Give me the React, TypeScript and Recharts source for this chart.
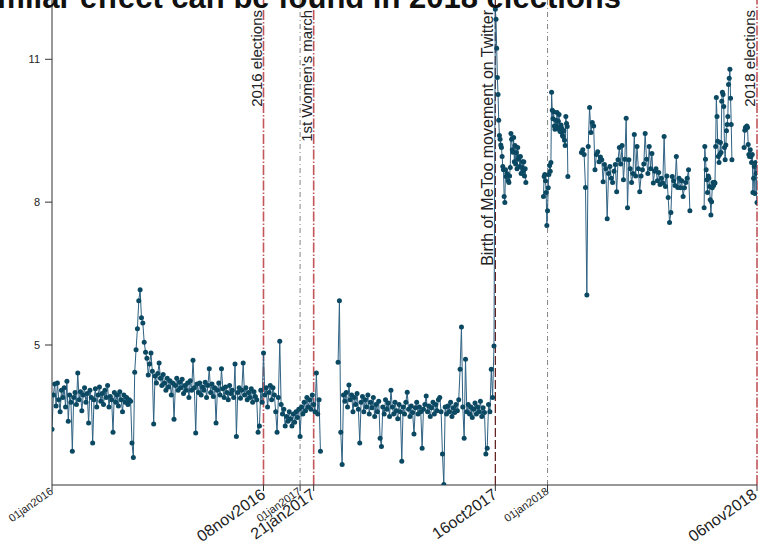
import { LineChart, Line, XAxis, YAxis, ReferenceLine } from "recharts";

// day index counted from 01jan2016
const tickDays = [0, 312, 366, 386, 654, 731, 1040];
const tickLabels = ["01jan2016", "08nov2016", "01jan2017", "21jan2017", "16oct2017", "01jan2018", "06nov2018"];
const tickMajor = [false, true, false, true, true, false, true];
const yTicks = [5, 8, 11];

const eventDays = [312, 386, 654, 1040];
const eventLabels = ["2016 elections", "1st Women's march", "Birth of MeToo movement on Twitter", "2018 elections"];
const eventFontSizes = [15, 15, 16, 15];
const yearStartDays = [366, 731];

// daily share (segments separated by missing days)
const seg2016 = [
  3.23, 3.95, 4.18, 3.72, 4.2, 3.85, 3.6, 4.05, 3.9, 4.1, 3.7, 4.24, 3.4, 3.95, 3.8, 2.77, 3.9, 4.0, 3.75, 4.41,
  3.85, 4.02, 3.62, 3.95, 4.1, 3.8, 3.98, 3.36, 4.05, 3.9, 2.94, 3.85, 4.08, 3.7, 3.95, 4.12, 3.82, 3.98, 3.75, 4.05,
  3.9, 4.15, 3.7, 3.92, 3.85, 3.17, 4.0, 3.8, 3.95, 3.72, 4.02, 3.85, 3.6, 3.95, 3.8, 3.9, 3.75, 3.85, 3.82, 2.94,
  2.64, 4.43, 4.9, 5.34, 5.93, 6.16, 5.57, 5.46, 5.06, 4.85, 4.72, 4.37, 4.6, 4.83, 4.45, 3.34, 4.35, 4.2, 4.4, 4.62,
  4.3, 4.15, 4.38, 4.2, 4.05, 4.3, 4.12, 4.25, 3.95, 4.2, 3.44, 4.15, 4.3, 4.05, 4.22, 4.1, 4.28, 3.98, 4.15, 4.05,
  4.2, 3.9, 4.25, 4.05, 4.68, 4.1, 3.15, 4.18, 4.0, 4.2, 3.95, 4.12, 4.05, 4.22, 3.9, 4.15, 4.5, 4.0, 4.18, 3.92,
  4.1, 3.36, 4.05, 4.2, 3.95, 4.5, 4.08, 3.9, 4.12, 4.0, 3.85, 4.15, 3.98, 4.05, 3.9, 4.6, 3.08, 4.0, 4.1, 3.88,
  4.05, 4.62, 3.95, 4.1, 3.85, 4.0, 3.9, 4.08, 3.8, 4.02, 3.92, 3.85, 3.17, 3.3, 4.05, 3.8, 4.83, 3.95, 4.1, 3.7,
  4.0, 4.15, 3.85, 4.1, 3.95, 3.6, 3.17, 3.9, 5.08, 3.75, 3.55, 3.65, 3.3, 3.5, 3.4, 3.6, 3.45, 3.3, 3.55, 3.38,
  3.6, 3.48, 3.65, 3.08, 3.7, 3.55, 3.8, 3.62, 3.9, 3.7, 3.85, 3.65, 3.95, 3.75, 3.6, 4.41, 3.55, 3.85, 2.77,
];
const seg2017 = [
  4.64, 5.93, 3.17, 2.49, 3.95, 3.82, 4.0, 3.7, 4.16, 3.85, 3.95, 3.6, 3.9, 3.75, 3.98, 3.65, 2.94, 3.8, 3.92, 3.6,
  3.85, 3.7, 3.95, 3.55, 3.8, 3.68, 3.9, 3.5, 3.75, 3.6, 3.82, 3.04, 2.87, 3.7, 3.55, 3.85, 3.65, 3.78, 3.5, 4.05,
  3.7, 3.55, 3.8, 3.62, 3.45, 3.75, 3.6, 2.56, 3.7, 3.55, 3.8, 4.01, 3.65, 3.5, 3.72, 3.58, 3.13, 3.68, 3.8, 3.55,
  3.7, 3.6, 2.83, 3.65, 3.75, 3.93, 3.6, 3.72, 3.5, 3.68, 3.8, 3.55, 3.75, 3.62, 3.85, 3.9, 3.6, 2.71, 2.07, 3.7,
  3.55, 3.72, 3.6, 3.8, 3.5, 3.68, 3.58, 3.75, 3.62, 3.85, 4.49, 5.38, 3.7, 3.04, 4.7, 3.6, 3.75, 3.55, 3.7, 3.48,
  3.65, 3.78, 3.55, 3.7, 3.6, 3.82, 3.5, 3.68, 3.58, 2.71, 2.83, 3.75, 3.6, 4.49, 3.9, 4.98,
];
const segMeToo = [
  12.05, 11.84, 11.23, 10.62, 10.26, 9.72, 9.4, 9.32, 9.2, 9.15, 8.96, 8.75, 8.68, 8.12, 7.99, 8.68, 8.54, 8.6, 8.58, 8.45,
  8.41, 8.55, 8.73, 9.44, 9.32, 9.1, 9.05, 9.36, 8.85, 9.19, 8.8, 9.04, 8.7, 9.15, 8.9, 8.95, 8.75, 8.96, 8.6, 8.73,
  8.85, 8.65, 8.85, 8.55, 8.7, 8.41,
];
const segNewYear = [
  8.12, 8.54, 8.58, 8.45, 8.2, 7.51, 7.82, 8.3, 8.58, 8.77, 8.65, 8.83, 10.31, 9.93, 9.75, 9.9, 9.6, 9.53, 9.72, 9.6,
  9.88, 9.55, 9.7, 9.84, 9.5, 9.48, 9.62, 9.55, 9.4, 9.38, 9.5, 9.3, 9.19, 9.8, 9.65, 9.59, 8.54,
];
const seg2018 = [
  9.04, 9.1, 9.0, 8.31, 6.05, 9.17, 9.99, 9.46, 9.67, 9.6, 8.68, 9.0, 9.06, 8.85, 8.95, 8.89, 8.43, 8.79, 8.7, 7.65,
  8.6, 8.75, 8.5, 8.41, 8.65, 8.79, 8.22, 8.89, 9.15, 8.8, 9.19, 8.47, 8.9, 9.76, 7.88, 8.89, 8.7, 8.41, 8.6, 9.42,
  8.55, 9.17, 8.7, 8.22, 8.55, 8.68, 8.8, 9.44, 8.9, 8.6, 9.17, 8.7, 9.02, 8.4, 8.65, 8.7, 8.45, 8.62, 8.37, 8.5,
  8.4, 9.38, 8.33, 8.55, 8.1, 7.57, 7.78, 8.54, 8.45, 8.35, 8.96, 8.31, 8.5, 8.3, 8.45, 8.12, 8.3, 8.41, 8.5, 8.68,
  7.82,
];
const segFall2018 = [
  7.88, 9.17, 8.9, 8.68, 8.47, 8.2, 8.55, 8.5, 8.33, 8.05, 7.73, 8.01, 8.3, 8.41, 8.35, 8.42, 8.4, 9.17, 10.2, 9.8,
  9.28, 8.96, 8.83, 9.0, 9.25, 9.04, 10.12, 10.31, 10.26, 10.01, 9.15, 8.89, 9.2, 9.5, 9.63, 9.8, 10.47, 10.6, 10.79, 10.18,
  9.63, 8.89,
];
const segElection2018 = [
  9.15, 9.51, 9.57, 9.55, 9.6, 9.57, 9.21, 9.0, 8.96, 9.1, 8.96, 8.83, 9.0, 8.2, 8.5, 8.75, 8.18, 8.83, 8.6, 7.99,
];

const segValues = [seg2016, seg2017, segMeToo, segNewYear, seg2018, segFall2018, segElection2018];
const segStart = [0, 422, 654, 725, 781, 962, 1021];
const segStep = [2, 2, 1, 1, 2, 1, 1];
const segGapBefore = [false, true, false, true, true, true, true];

const data: { day: number; value: number | null }[] = [];
segValues.forEach((vals, s) => {
  if (segGapBefore[s]) data.push({ day: segStart[s] - 1, value: null });
  vals.forEach((v, i) => data.push({ day: segStart[s] + i * segStep[s], value: v }));
});

const FONT = "'Liberation Sans', Arial, Helvetica, sans-serif";
const RED = "#c2565a";

function DateTick(props: any) {
  const { x, y, payload } = props;
  const i = tickDays.indexOf(payload.value);
  if (i < 0) return null;
  const big = tickMajor[i];
  const ax = Math.min(x + (big ? 3 : 2), 758);
  const ay = y + (big ? 4 : 0);
  return (
    <text
      x={ax}
      y={ay}
      textAnchor="end"
      fontSize={big ? 16 : 11}
      fontFamily={FONT}
      fill="#222"
      transform={`rotate(-35, ${ax}, ${ay})`}
    >
      {tickLabels[i]}
    </text>
  );
}

function EventLabel(props: any) {
  const vb = props.viewBox;
  if (!vb) return null;
  const lx = vb.x - 2;
  const ly = vb.y + 10;
  return (
    <text
      x={lx}
      y={ly}
      textAnchor="end"
      fontSize={props.size}
      fontFamily={FONT}
      fill="#222"
      transform={`rotate(-90, ${lx}, ${ly})`}
    >
      {props.text}
    </text>
  );
}

export default function App() {
  return (
    <div style={{ position: "absolute", left: 0, top: 0, width: 759, height: 542, background: "#fff" }}>
      <LineChart width={759} height={542} data={data} margin={{ top: 0, right: 2, left: 0, bottom: 0 }}>
        <XAxis
          dataKey="day"
          type="number"
          domain={[0, 1040]}
          ticks={tickDays}
          interval={0}
          height={57}
          tick={<DateTick />}
          tickSize={6}
          axisLine={{ stroke: "#333" }}
          tickLine={{ stroke: "#333" }}
          allowDataOverflow
        />
        <YAxis
          type="number"
          domain={[2.06, 12.245]}
          ticks={yTicks}
          width={52}
          tickSize={7}
          tickMargin={5}
          tick={{ fontSize: 11, fill: "#222", fontFamily: FONT }}
          axisLine={{ stroke: "#333" }}
          tickLine={{ stroke: "#333" }}
          allowDataOverflow
        />
        {yearStartDays.map((d) => (
          <ReferenceLine key={`y${d}`} x={d} stroke="#666" strokeWidth={0.8} strokeDasharray="5 3 1 3" />
        ))}
        {eventDays.map((d, i) => (
          <ReferenceLine
            key={`e${d}`}
            x={d}
            stroke={d === 654 ? "#5a1616" : RED}
            strokeWidth={d === 654 ? 1.2 : 1.6}
            strokeDasharray={d === 654 ? "9 3" : "10 2 1.5 2"}
            ifOverflow="visible"
            label={<EventLabel text={eventLabels[i]} size={eventFontSizes[i]} />}
          />
        ))}
        <Line
          type="linear"
          dataKey="value"
          stroke="#2f6283"
          strokeWidth={1}
          dot={{ r: 2.5, fill: "#0b4862", stroke: "none" }}
          activeDot={false}
          isAnimationActive={false}
        />
      </LineChart>
      <svg width={759} height={542} style={{ position: "absolute", left: 0, top: 0, pointerEvents: "none" }}>
        <text x={621} y={7.5} textAnchor="end" fontSize={31} fontWeight="bold" fontFamily={FONT} fill="#111">
          A similar effect can be found in 2018 elections
        </text>
      </svg>
    </div>
  );
}
